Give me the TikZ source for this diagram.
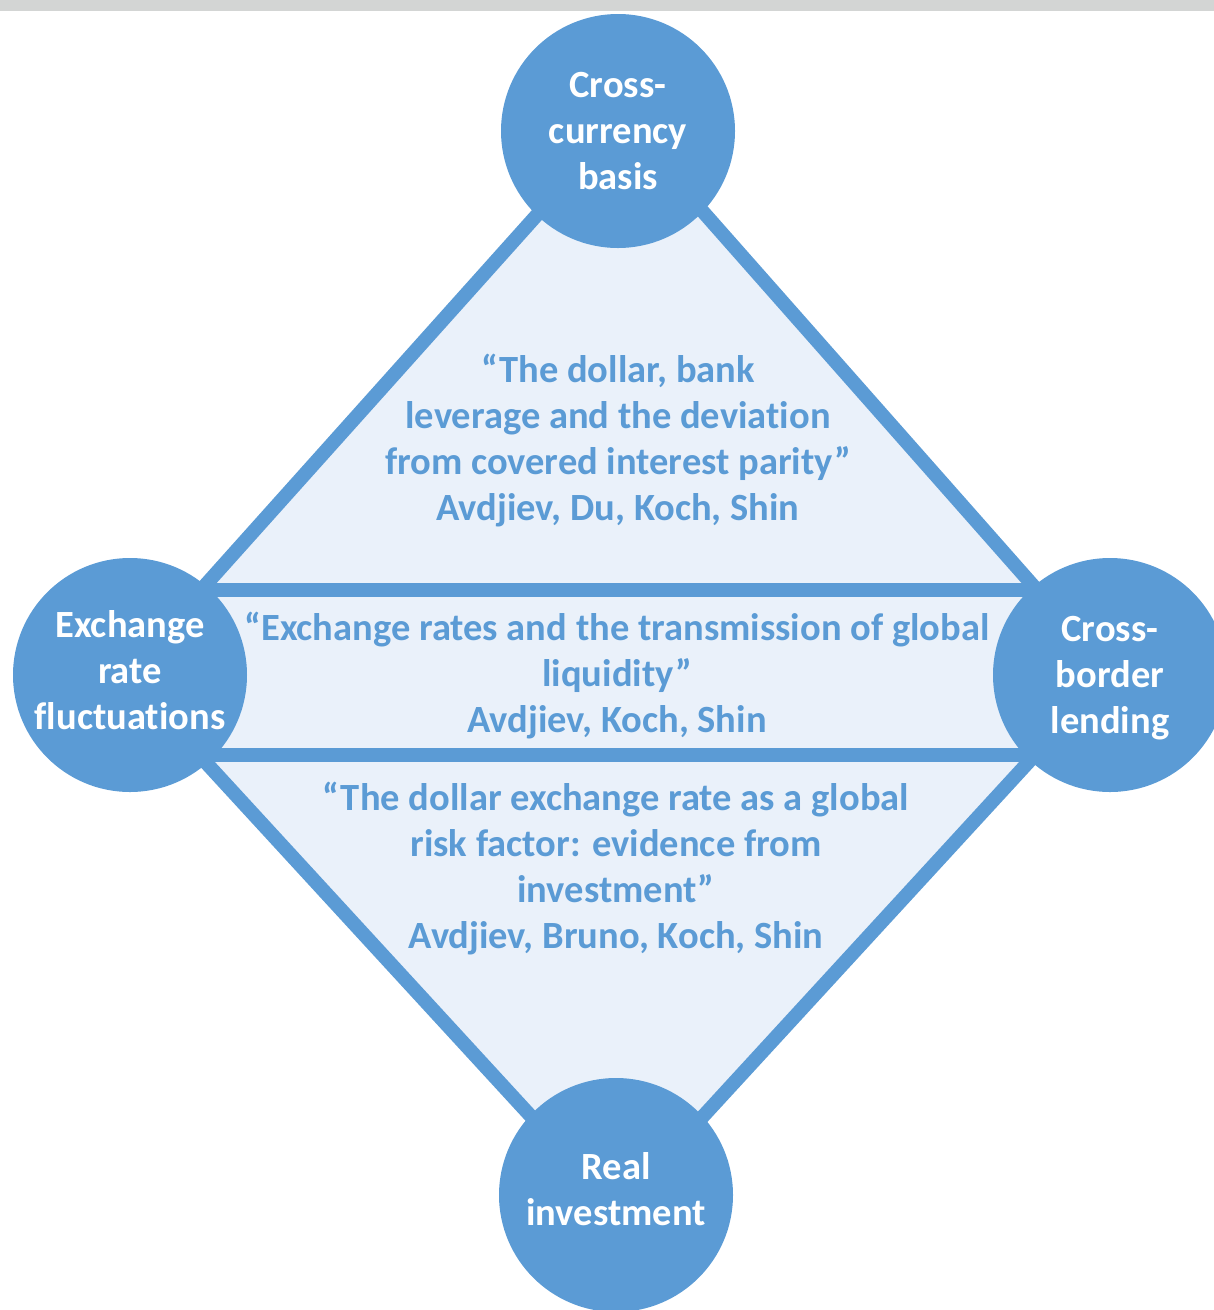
\documentclass[tikz,border=0pt]{standalone}
\usepackage{fontspec}
\setmainfont[Ligatures=NoCommon]{Carlito}
\definecolor{nodeblue}{HTML}{5B9BD5}
\definecolor{paneblue}{HTML}{EAF1FA}
\definecolor{topbar}{HTML}{D3D5D4}
\begin{document}
\begin{tikzpicture}[x=1pt,y=-1pt,
  edge/.style={draw=nodeblue, line width=14pt, line join=round, line cap=butt},
  hub/.style={circle, fill=nodeblue, minimum size=234pt, inner sep=0pt},
  hubtext/.style={text=white, font=\bfseries\fontsize{38.5}{46}\selectfont,
    align=center, inner sep=0pt},
  paper/.style={text=nodeblue, font=\bfseries\fontsize{38.5}{46}\selectfont,
    align=center, inner sep=0pt}]
\useasboundingbox (0,0) rectangle (1214,1310);
\fill[topbar] (0,0) rectangle (1214,10.5);

% corners of the three panes
\coordinate (apexT) at (622,120);
\coordinate (apexB) at (617,1210);
\coordinate (uL) at (201,590);
\coordinate (uR) at (1037,590);
\coordinate (lL) at (199,755);
\coordinate (lR) at (1035,755);

% pane fills
\fill[paneblue] (apexT) -- (uR) -- (lR) -- (apexB) -- (lL) -- (uL) -- cycle;
% pane borders
\draw[edge] (uL) -- (apexT) -- (uR);
\draw[edge] (lL) -- (apexB) -- (lR);
\draw[edge] (uL) -- (uR);
\draw[edge] (lL) -- (lR);

% the four topics
\node[hub] (basis) at (618,131) {};
\node[hub] (fx) at (130,675) {};
\node[hub] (lending) at (1110,675) {};
\node[hub] (invest) at (616,1195) {};
\node[hubtext] (basisT) at (basis.center) {Cross-\\currency\\basis};
\node[hubtext] (fxT) at ([yshift=5pt]fx.center) {Exchange\\rate\\fluctuations};
\node[hubtext] (lendingT) at ([yshift=-3pt]lending.center) {Cross-\\border\\lending};
\node[hubtext] (investT) at ([yshift=6pt]invest.center) {Real\\investment};

% the three papers
\node[paper] (p1) at (618,441) {“The dollar, bank\\leverage and the deviation\\from covered interest parity”\\Avdjiev, Du, Koch, Shin};
\node[paper] (p2) at (617,676) {“Exchange rates and the transmission of global\\liquidity”\\Avdjiev, Koch, Shin};
\node[paper] (p3) at (616,869) {“The dollar exchange rate as a global\\risk factor: evidence from\\investment”\\Avdjiev, Bruno, Koch, Shin};
\end{tikzpicture}
\end{document}
